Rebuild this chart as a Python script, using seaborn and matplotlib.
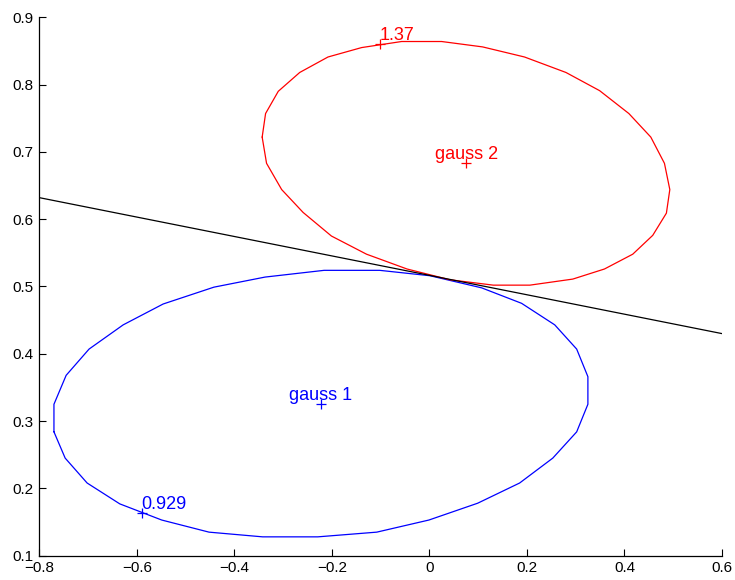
import numpy as np
import pandas as pd
import matplotlib
matplotlib.use("Agg")
import matplotlib.pyplot as plt
import seaborn as sns

# Ellipse outline for gauss 1 (blue polygon vertices)
g1_x = [-0.770, -0.770, -0.745, -0.698, -0.628, -0.546, -0.442, -0.337, -0.216, -0.102,
        0.001, 0.107, 0.189, 0.257, 0.302, 0.325, 0.325, 0.302, 0.253, 0.185,
        0.099, -0.001, -0.108, -0.229, -0.342, -0.452, -0.549, -0.635, -0.702, -0.747]
g1_y = [0.284, 0.325, 0.368, 0.407, 0.443, 0.474, 0.499, 0.514, 0.524, 0.524,
        0.516, 0.498, 0.475, 0.443, 0.407, 0.366, 0.325, 0.284, 0.245, 0.208,
        0.178, 0.153, 0.135, 0.128, 0.128, 0.135, 0.153, 0.177, 0.208, 0.245]

# Ellipse outline for gauss 2 (red polygon vertices)
g2_x = [-0.343, -0.336, -0.310, -0.266, -0.208, -0.139, -0.057, 0.025, 0.109, 0.195,
        0.280, 0.349, 0.409, 0.454, 0.482, 0.493, 0.486, 0.458, 0.417, 0.359,
        0.294, 0.206, 0.131, 0.042, -0.046, -0.129, -0.201, -0.259, -0.303, -0.334]
g2_y = [0.722, 0.757, 0.790, 0.818, 0.841, 0.855, 0.864, 0.864, 0.856, 0.841,
        0.818, 0.791, 0.757, 0.722, 0.683, 0.644, 0.609, 0.576, 0.548, 0.526,
        0.511, 0.502, 0.502, 0.510, 0.526, 0.548, 0.575, 0.610, 0.644, 0.683]

# Decision line
line_x = [-0.8, 0.6]
line_y = [0.632, 0.430]

# Marked points and labels
g1_center = (-0.223, 0.325)
g1_point = (-0.590, 0.164)
g2_center = (0.076, 0.683)
g2_point = (-0.102, 0.860)
g1_center_label = "gauss 1"
g2_center_label = "gauss 2"
g1_point_label = "0.929"
g2_point_label = "1.37"

x_ticks = [-0.8, -0.6, -0.4, -0.2, 0.0, 0.2, 0.4, 0.6]
x_tick_labels = ["\u22120.8", "\u22120.6", "\u22120.4", "\u22120.2", "0", "0.2", "0.4", "0.6"]
y_ticks = [0.1, 0.2, 0.3, 0.4, 0.5, 0.6, 0.7, 0.8, 0.9]
y_tick_labels = ["0.1", "0.2", "0.3", "0.4", "0.5", "0.6", "0.7", "0.8", "0.9"]

sns.set_style("ticks")
plt.rcParams['font.family'] = ['Liberation Sans', 'DejaVu Sans']

fig = plt.figure(figsize=(7.35, 5.8), dpi=100)
ax = fig.add_axes([0.0535, 0.0419, 0.9288, 0.9283])

df1 = pd.DataFrame({"x": g1_x + [g1_x[0]], "y": g1_y + [g1_y[0]]})
df2 = pd.DataFrame({"x": g2_x + [g2_x[0]], "y": g2_y + [g2_y[0]]})
dfl = pd.DataFrame({"x": line_x, "y": line_y})

sns.lineplot(data=df1, x="x", y="y", sort=False, estimator=None, color="#0000ff", lw=0.9, ax=ax)
sns.lineplot(data=df2, x="x", y="y", sort=False, estimator=None, color="#ff0000", lw=0.9, ax=ax)
sns.lineplot(data=dfl, x="x", y="y", sort=False, estimator=None, color="black", lw=0.9, ax=ax)

pts1 = pd.DataFrame({"x": [g1_center[0], g1_point[0]], "y": [g1_center[1], g1_point[1]]})
pts2 = pd.DataFrame({"x": [g2_center[0], g2_point[0]], "y": [g2_center[1], g2_point[1]]})
sns.scatterplot(data=pts1, x="x", y="y", marker="+", s=60, color="#0000ff", linewidth=0.9, ax=ax)
sns.scatterplot(data=pts2, x="x", y="y", marker="+", s=60, color="#ff0000", linewidth=0.9, ax=ax)

ax.text(g1_center[0], g1_center[1], g1_center_label, color="#0000ff", fontsize=13, ha="center", va="bottom")
ax.text(g2_center[0], g2_center[1], g2_center_label, color="#ff0000", fontsize=13, ha="center", va="bottom")
ax.text(g1_point[0], g1_point[1], g1_point_label, color="#0000ff", fontsize=13, ha="left", va="bottom")
ax.text(g2_point[0], g2_point[1], g2_point_label, color="#ff0000", fontsize=13, ha="left", va="bottom")

ax.set_xlim(-0.8, 0.6)
ax.set_ylim(0.1, 0.9)
ax.set_xticks(x_ticks)
ax.set_xticklabels(x_tick_labels)
ax.set_yticks(y_ticks)
ax.set_yticklabels(y_tick_labels)
ax.set_xlabel("")
ax.set_ylabel("")
ax.tick_params(direction="in", length=5, width=0.8, labelsize=11, pad=4, colors="black")
for s in ["top", "right"]:
    ax.spines[s].set_visible(False)
for s in ["left", "bottom"]:
    ax.spines[s].set_linewidth(0.9)
    ax.spines[s].set_color("black")

fig.savefig("out.png", dpi=100)
